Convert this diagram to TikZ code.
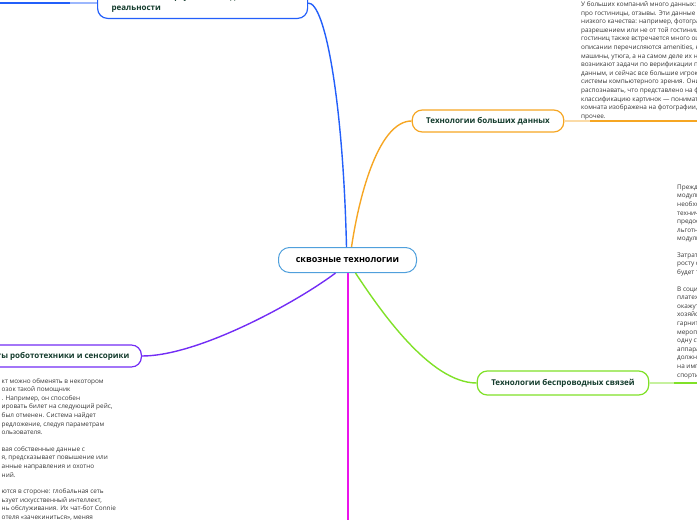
\documentclass[tikz,border=0pt]{standalone}
\usepackage{fontspec}
\setmainfont{Open Sans}
\usetikzlibrary{calc}
\definecolor{cblue}{RGB}{35,95,250}
\definecolor{corange}{RGB}{246,166,35}
\definecolor{cgreen}{RGB}{128,225,40}
\definecolor{cpurple}{RGB}{115,45,245}
\definecolor{cmagenta}{RGB}{235,20,235}
\definecolor{ccentral}{RGB}{80,160,220}
\definecolor{nodetext}{RGB}{20,60,45}
\definecolor{notetext}{RGB}{55,55,55}
\begin{document}
\begin{tikzpicture}[x=1pt,y=-1pt,
  central/.style={draw=ccentral, line width=1pt, rounded corners=11pt, fill=white,
    minimum width=138pt, minimum height=25pt, inner sep=0pt,
    font=\fontsize{9}{11}\selectfont\bfseries, text=black},
  branch/.style={draw, rounded corners=10pt, line width=1.2pt, fill=white,
    font=\fontsize{8}{10.5}\selectfont\bfseries, text=nodetext,
    inner xsep=14pt, inner ysep=6pt},
  note/.style={anchor=north west, align=left, inner sep=0pt,
    font=\fontsize{6.4}{8.6}\selectfont, text=notetext},
  curve/.style={line width=1.4pt},
  lightseg/.style={line width=1.2pt},
  fullseg/.style={line width=1.9pt}]
\useasboundingbox (0,0) rectangle (697,520);
\clip (0,0) rectangle (697,520);

% nodes
\node[central] (c) at (347.5,260) {сквозные технологии};
\node[branch, draw=corange, minimum width=148pt, minimum height=22pt] (o) at (488,121) {Технологии больших данных};
\node[branch, draw=cgreen, minimum width=164pt, minimum height=24pt] (g) at (563,383) {Технологии беспроводных связей};
\node[branch, draw=cpurple, anchor=east, minimum height=22pt, inner xsep=12pt] (p) at (142,356) {Компоненты робототехники и сенсорики};
\node[branch, draw=cblue, anchor=south west, text width=182pt, align=left] (b) at (97,19) {Технологии виртуальной и дополненной\\реальности};

% free ends
\coordinate (bEnd) at (0,3);
\coordinate (oEnd) at (697,121);
\coordinate (gEnd) at (697,383);
\coordinate (mEnd) at (348,520);

% main connectors
\draw[cblue, curve] ([xshift=-1pt]c.north) .. controls (343,100) and (325,2) .. (b.east);
\draw[corange, curve] ([xshift=4pt]c.north) .. controls (360,190) and (380,121) .. (o.west);
\draw[cpurple, curve] ([xshift=-12pt]c.south) .. controls (300,300) and (200,356) .. (p.east);
\draw[cgreen, curve] ([xshift=8pt]c.south) .. controls (380,310) and (430,383) .. (g.west);
\draw[cmagenta, curve] ([xshift=0.5pt]c.south) -- (mEnd);

% note connectors
\draw[cblue!45, lightseg] (b.west) -- ([xshift=-27pt]b.west);
\draw[cblue, fullseg] ([xshift=-27pt]b.west) -- (b.west -| bEnd);
\draw[corange!40, lightseg] (o.east) -- ([xshift=26pt]o.east);
\draw[corange, fullseg] ([xshift=26pt]o.east) -- (oEnd);
\draw[cgreen!45, lightseg] (g.east) -- ([xshift=25pt]g.east);
\draw[cgreen, fullseg] ([xshift=25pt]g.east) -- (gEnd);

% notes
\node[note] (on) at (581,1.3) {У больших компаний много данных: информация\\
про гостиницы, отзывы. Эти данные бывают\\
низкого качества: например, фотографии с низким\\
разрешением или не от той гостиницы. Для\\
гостиниц также встречается много ошибок: в\\
описании перечисляются amenities, например\\
машины, утюга, а на самом деле их нет. Поэтому\\
возникают задачи по верификации по разным\\
данным, и сейчас все большие игроки используют\\
системы компьютерного зрения. Они позволяют\\
распознавать, что представлено на фотографии, и делать\\
классификацию картинок — понимать, какая\\
комната изображена на фотографии, бассейн или\\
прочее.};

\node[note] (gn) at (677,184.5) {Прежде всего\\
модули\\
необходимо\\
технические\\
предоставить\\
льготные\\
модули\\[7.9pt]
Затраты\\
росту спроса\\
будет только\\[7.9pt]
В социальной\\
платежи\\
окажут\\
хозяйства\\
гарнитуры\\
мероприятия\\
одну страну\\
аппараты\\
должно\\
на импорт\\
спортивные};

\node[note] (pn) at (1.5,378) {кт можно обменять в некотором\\
озок такой помощник\\
. Например, он способен\\
ировать билет на следующий рейс,\\
был отменен. Система найдет\\
редложение, следуя параметрам\\
ользователя.\\[7.9pt]
вая собственные данные с\\
я, предсказывает повышение или\\
анные направления и охотно\\
ний.\\[7.9pt]
ются в стороне: глобальная сеть\\
ьзует искусственный интеллект,\\
нь обслуживания. Их чат-бот Connie\\
отеля «зачекиниться», меняя};
\end{tikzpicture}
\end{document}
